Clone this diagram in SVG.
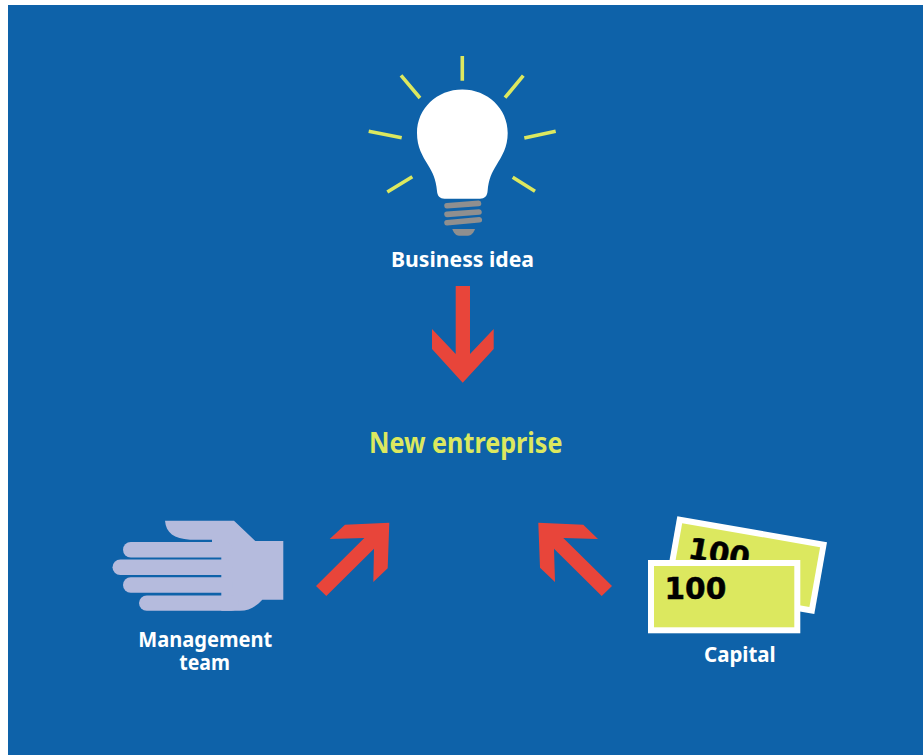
<svg xmlns="http://www.w3.org/2000/svg" width="923" height="755" viewBox="0 0 923 755">
<defs>
<style>
.lbl{font-family:"Noto Sans","Open Sans",sans-serif;font-weight:700;fill:#fff;font-size:21.5px}
.ray{stroke:#dce85f;stroke-width:3.6;fill:none}
.screw{stroke:#8f8f8f;stroke-width:5.6;stroke-linecap:round;fill:none}
.arrow{fill:#e8453a}
.num{font-family:"DejaVu Sans",sans-serif;font-weight:700;font-size:29.6px;fill:#000;stroke:#000;stroke-width:.5}
.finger{fill:#b5bbdd}
</style>
</defs>
<rect width="923" height="755" fill="#fff"/>
<rect x="8" y="5" width="915" height="750" fill="#0e62a9"/>
<g id="connectors">
<path class="arrow" d="M455.700 286H470V354L493.700 329V349L462.700 382.700L432 349V329L455.700 354Z"/>
<path class="arrow" d="M389.300 522.700L345 524.700L329.700 539L364.300 538L316 586L326.300 596L374 548.700L373.300 582L387.700 568.300Z"/>
<path class="arrow" d="M538.300 522.700L583.300 524.700L598 539L563.300 538L612 586L601.700 596L554 548.700L555 582L540 567.700Z"/>
</g>
<g id="business-idea">
<path class="ray" d="M462.300 56V80.700M401 75.300L420 98M523.300 75.700L505 97.700M368.700 131.300L401.700 137.700M555.700 131.300L524.300 138M412.300 176.700L387.300 192M512.700 177.300L535 191.300"/>
<path fill="#fff" d="M462.300 89.500C487.500 89.500 507.700 108.500 507.700 133C507.700 147 502 156 496.500 165C492 172.500 488.500 179 487.600 191C487.300 196 484.500 198.700 480 198.700H444.500C440 198.700 437.300 196 437 191C436 179 432.500 172.500 428 165C422.500 156 417 147 417 133C417 108.500 437 89.500 462.300 89.500Z"/>
<path class="screw" d="M447 205.800L478.500 203.400M447 214.400L479 212M447 222.800L479.300 219.800"/>
<path fill="#8f8f8f" d="M452.300 229H475C473.500 233 471 235.700 468 235.700H459C456 235.700 453.800 233 452.300 229Z"/>
<text class="lbl" x="391" y="266.700" textLength="143" lengthAdjust="spacingAndGlyphs">Business idea</text>
</g>
<g id="new-entreprise">
<text class="lbl" x="369" y="453.300" style="font-size:28px;fill:#dce85f" textLength="193.500" lengthAdjust="spacingAndGlyphs">New entreprise</text>
</g>
<g id="management-team">
<path class="finger" d="M165 520.700H234L255.300 541H283.300V599.700H262.300C256 606.500 249 610.800 240 610.800H221.300V541.500H212V539.700H190C174 538.500 166 533 165 520.700Z"/>
<rect class="finger" x="123" y="542" width="110" height="15.400" rx="7.700"/>
<rect class="finger" x="112.500" y="559.400" width="120" height="15.700" rx="7.800"/>
<rect class="finger" x="123" y="577.300" width="110" height="15.500" rx="7.700"/>
<rect class="finger" x="139" y="595.400" width="100" height="15.400" rx="7.700"/>
<rect class="finger" x="212" y="539" width="12" height="4"/>
<text class="lbl" x="138.300" y="646.700" textLength="134" lengthAdjust="spacingAndGlyphs">Management</text>
<text class="lbl" x="179.300" y="670" textLength="50.700" lengthAdjust="spacingAndGlyphs">team</text>
</g>
<g id="capital">
<path fill="#fff" d="M677.300 516.300L827 542.300L814.300 614L664.600 588Z"/>
<path fill="#dce85f" d="M682.200 523.200L820.100 547.200L809.400 607.100L671.500 583.100Z"/>
<text class="num" transform="translate(687 558) rotate(10)">100</text>
<rect x="651" y="563" width="146.300" height="67.300" fill="#dce85f" stroke="#fff" stroke-width="6"/>
<text class="num" x="664.500" y="599.300">100</text>
<text class="lbl" x="704" y="661.700" textLength="71.700" lengthAdjust="spacingAndGlyphs">Capital</text>
</g>
</svg>
